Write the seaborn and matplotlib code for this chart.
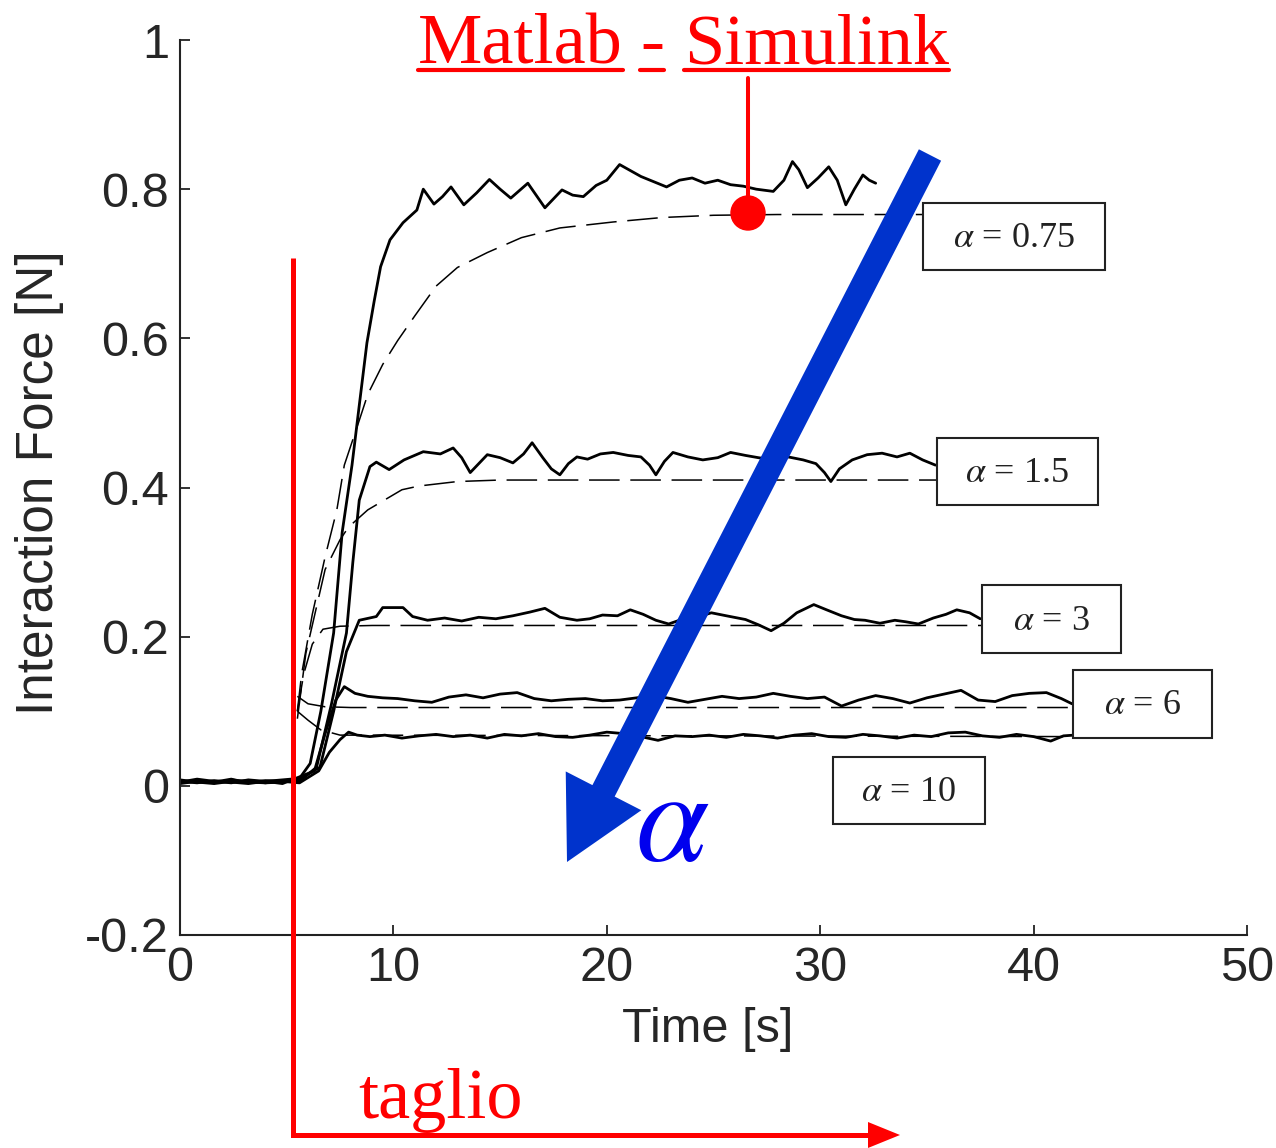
import matplotlib
matplotlib.use("Agg")
import matplotlib.pyplot as plt
import seaborn as sns
from matplotlib.lines import Line2D
from matplotlib.patches import Rectangle, Circle, FancyArrow, Polygon
from matplotlib.transforms import Affine2D

# ---- misure (Time [s], Interaction Force [N]) ----
t_exp_075 = [0.0, 0.8, 1.6, 2.4, 3.2, 4.0, 4.8, 5.6,
             6.1, 6.6, 7.2, 7.6, 8.06, 8.4, 8.76, 9.1, 9.4, 9.84,
             10.45, 11.1, 11.4, 11.9, 12.3, 12.7, 13.3, 13.9, 14.5, 15.0,
             15.5, 16.3, 17.1, 17.9, 18.4, 18.9, 19.5, 20.0, 20.6, 21.1,
             21.6, 22.2, 22.8, 23.4, 24.0, 24.6, 25.2, 25.8, 26.4, 27.0,
             27.8, 28.3, 28.7, 29.0, 29.4, 29.9, 30.4, 30.8, 31.2, 31.6,
             32.0, 32.3, 32.6]
f_exp_075 = [0.006, 0.004, 0.007, 0.005, 0.003, 0.006, 0.008, 0.010,
             0.030, 0.100, 0.205, 0.340, 0.430, 0.510, 0.594, 0.650, 0.696, 0.732,
             0.755, 0.772, 0.800, 0.780, 0.790, 0.803, 0.779, 0.795, 0.813, 0.800,
             0.788, 0.808, 0.775, 0.799, 0.792, 0.790, 0.805, 0.812, 0.833, 0.825,
             0.817, 0.810, 0.803, 0.812, 0.815, 0.808, 0.812, 0.806, 0.804, 0.800,
             0.797, 0.812, 0.837, 0.826, 0.802, 0.815, 0.830, 0.812, 0.779, 0.800,
             0.819, 0.812, 0.808]

t_exp_15 = [0.0, 0.8, 1.6, 2.4, 3.2, 4.0, 4.8, 5.6,
            6.4, 7.1, 7.8, 8.1, 8.4, 8.9, 9.2, 9.8, 10.5, 11.4,
            12.2, 12.8, 13.2, 13.6, 14.0, 14.4, 15.0, 15.6, 16.1, 16.5,
            17.0, 17.4, 17.8, 18.2, 18.6, 19.1, 19.7, 20.3, 21.0, 21.6,
            22.0, 22.3, 22.7, 23.1, 23.8, 24.5, 25.2, 25.8, 26.5, 27.1,
            27.8, 28.5, 29.2, 29.8, 30.2, 30.5, 30.9, 31.5, 32.2, 32.9,
            33.6, 34.2, 34.8, 35.4]
f_exp_15 = [0.003, 0.006, 0.004, 0.008, 0.005, 0.004, 0.007, 0.006,
            0.025, 0.110, 0.205, 0.300, 0.383, 0.428, 0.434, 0.424, 0.437, 0.448,
            0.445, 0.453, 0.440, 0.420, 0.432, 0.444, 0.440, 0.433, 0.445, 0.460,
            0.440, 0.425, 0.417, 0.432, 0.441, 0.438, 0.445, 0.447, 0.443, 0.441,
            0.430, 0.417, 0.435, 0.447, 0.441, 0.437, 0.440, 0.447, 0.443, 0.440,
            0.437, 0.441, 0.437, 0.432, 0.420, 0.408, 0.425, 0.437, 0.444, 0.446,
            0.441, 0.446, 0.437, 0.430]

t_exp_3 = [0.0, 0.8, 1.6, 2.4, 3.2, 4.0, 4.8, 5.6,
           6.56, 7.2, 7.8, 8.4, 9.2, 9.5, 10.45, 10.9, 11.6, 12.4,
           13.2, 14.0, 14.8, 15.6, 16.4, 17.1, 17.8, 18.6, 19.2, 19.8,
           20.5, 21.1, 21.7, 22.3, 22.9, 23.5, 24.2, 24.9, 25.6, 26.5,
           27.1, 27.7, 28.3, 28.9, 29.7, 30.3, 31.0, 31.6, 32.1, 32.8,
           33.5, 34.0, 34.6, 35.3, 35.9, 36.4, 37.0, 37.5]
f_exp_3 = [0.008, 0.005, 0.003, 0.006, 0.007, 0.004, 0.005, 0.009,
           0.025, 0.100, 0.180, 0.222, 0.227, 0.239, 0.239, 0.227, 0.222, 0.225,
           0.221, 0.226, 0.224, 0.228, 0.233, 0.238, 0.226, 0.222, 0.224, 0.229,
           0.228, 0.236, 0.230, 0.222, 0.217, 0.223, 0.226, 0.232, 0.228, 0.223,
           0.216, 0.208, 0.218, 0.232, 0.243, 0.236, 0.228, 0.223, 0.222, 0.218,
           0.222, 0.220, 0.217, 0.225, 0.230, 0.236, 0.232, 0.224]

t_exp_6 = [0.0, 0.8, 1.6, 2.4, 3.2, 4.0, 4.8, 5.6,
           6.3, 6.8, 7.3, 7.7, 8.2, 8.8, 9.5, 10.2, 11.0, 11.8,
           12.6, 13.4, 14.2, 15.0, 15.8, 16.6, 17.4, 18.2, 19.0, 19.8,
           20.6, 21.4, 22.2, 23.0, 23.8, 24.6, 25.4, 26.2, 27.0, 27.8,
           28.6, 29.4, 30.2, 31.0, 31.8, 32.6, 33.4, 34.2, 35.0, 35.8,
           36.6, 37.4, 38.2, 39.0, 39.8, 40.6, 41.3, 41.8]
f_exp_6 = [0.005, 0.009, 0.006, 0.004, 0.008, 0.006, 0.003, 0.012,
           0.020, 0.070, 0.115, 0.133, 0.124, 0.120, 0.118, 0.117, 0.114, 0.112,
           0.119, 0.122, 0.118, 0.123, 0.125, 0.117, 0.114, 0.116, 0.117, 0.114,
           0.115, 0.118, 0.121, 0.117, 0.112, 0.116, 0.120, 0.117, 0.119, 0.124,
           0.120, 0.117, 0.119, 0.107, 0.115, 0.121, 0.117, 0.111, 0.118, 0.123,
           0.128, 0.115, 0.113, 0.121, 0.124, 0.125, 0.117, 0.110]

t_exp_10 = [0.0, 0.8, 1.6, 2.4, 3.2, 4.0, 4.8, 5.6,
            6.5, 7.0, 7.5, 7.9, 8.3, 8.9, 9.6, 10.4, 11.2, 12.0,
            12.8, 13.6, 14.4, 15.2, 16.0, 16.8, 17.6, 18.4, 19.2, 20.0,
            20.8, 21.6, 22.4, 23.2, 24.0, 24.8, 25.6, 26.4, 27.2, 28.0,
            28.8, 29.6, 30.4, 31.2, 32.0, 32.8, 33.6, 34.4, 35.2, 36.0,
            36.8, 37.6, 38.4, 39.2, 40.0, 40.8, 41.4, 41.9]
f_exp_10 = [0.004, 0.007, 0.005, 0.009, 0.004, 0.007, 0.006, 0.004,
            0.020, 0.045, 0.062, 0.072, 0.068, 0.066, 0.068, 0.064, 0.067, 0.069,
            0.066, 0.068, 0.064, 0.069, 0.067, 0.070, 0.066, 0.065, 0.068, 0.072,
            0.070, 0.066, 0.061, 0.067, 0.066, 0.068, 0.065, 0.069, 0.067, 0.064,
            0.068, 0.070, 0.066, 0.065, 0.069, 0.067, 0.064, 0.068, 0.066, 0.071,
            0.072, 0.067, 0.065, 0.069, 0.066, 0.060, 0.067, 0.068]

# ---- simulazioni Matlab - Simulink ----
t_sim_075 = [5.5, 5.7, 6.2, 6.8, 7.35, 7.7, 8.4, 8.8, 9.5, 10.2, 11.0,
             12.0, 13.0, 14.4, 16.0, 17.8, 20.3, 22.6, 25.0, 28.0, 34.8]
f_sim_075 = [0.100, 0.150, 0.230, 0.307, 0.370, 0.430, 0.490, 0.525, 0.565, 0.597, 0.630,
             0.670, 0.695, 0.715, 0.735, 0.748, 0.756, 0.762, 0.765, 0.766, 0.766]
t_sim_15 = [5.5, 5.9, 6.8, 7.5, 7.9, 8.8, 10.4, 11.2, 13.0, 15.0, 35.5]
f_sim_15 = [0.090, 0.178, 0.290, 0.330, 0.347, 0.370, 0.397, 0.402, 0.408, 0.410, 0.410]
t_sim_3 = [5.5, 5.8, 6.2, 6.7, 7.5, 9.0, 37.6]
f_sim_3 = [0.100, 0.150, 0.190, 0.210, 0.214, 0.215, 0.215]
t_sim_6 = [5.5, 6.0, 6.8, 8.0, 41.85]
f_sim_6 = [0.120, 0.110, 0.106, 0.105, 0.105]
t_sim_10 = [5.5, 6.0, 6.6, 7.5, 41.9]
f_sim_10 = [0.100, 0.088, 0.075, 0.068, 0.066]

alpha_labels = ["0.75", "1.5", "3", "6", "10"]
xticks = [0, 10, 20, 30, 40, 50]
yticks = [-0.2, 0, 0.2, 0.4, 0.6, 0.8, 1]
ytick_labels = ["-0.2", "0", "0.2", "0.4", "0.6", "0.8", "1"]

# riquadri delle etichette (pixel, origine in alto a sinistra)
box_px = [(923, 203, 1105, 270), (937, 438, 1098, 505), (982, 585, 1121, 653),
          (1073, 670, 1212, 738), (833, 757, 985, 824)]

sns.set_style("ticks")
plt.rcParams['font.family'] = ['Liberation Sans', 'DejaVu Sans']
plt.rcParams['mathtext.fontset'] = 'stix'

W, H = 1276, 1148
fig = plt.figure(figsize=(W / 100, H / 100), dpi=100)
ax = fig.add_axes([180 / W, 1 - 935 / H, (1247 - 180) / W, (935 - 40) / H])

esperimenti = [(t_exp_075, f_exp_075), (t_exp_15, f_exp_15), (t_exp_3, f_exp_3),
               (t_exp_6, f_exp_6), (t_exp_10, f_exp_10)]
simulazioni = [(t_sim_075, f_sim_075), (t_sim_15, f_sim_15), (t_sim_3, f_sim_3),
               (t_sim_6, f_sim_6), (t_sim_10, f_sim_10)]

for t, f in simulazioni:
    sns.lineplot(x=t, y=f, ax=ax, color='black', lw=1.1, linestyle=(0, (20, 7)),
                 estimator=None, sort=False)
for t, f in esperimenti:
    sns.lineplot(x=t, y=f, ax=ax, color='black', lw=2.0, estimator=None, sort=False)

ax.set_xlim(0, 50)
ax.set_ylim(-0.2, 1)
ax.set_xticks(xticks, labels=[str(v) for v in xticks])
ax.set_yticks(yticks, labels=ytick_labels)
ax.tick_params(direction='in', length=7, width=1.3, labelsize=35, pad=8, color='#222222')
for s in ['top', 'right']:
    ax.spines[s].set_visible(False)
for s in ['left', 'bottom']:
    ax.spines[s].set_linewidth(1.5)
    ax.spines[s].set_color('#222222')

ax.set_xlabel("Time [s]", fontsize=35, va='center')
ax.xaxis.set_label_coords((708 - 180) / 1067, (935 - 1030) / 895)
ax.set_ylabel("Interaction Force [N]", fontsize=37, va='center')
ax.yaxis.set_label_coords((40 - 180) / 1067, (935 - 483) / 895)

# trasformazione in pixel con origine in alto
pix = Affine2D().scale(1, -1).translate(0, H)

for (x0, y0, x1, y1), a in zip(box_px, alpha_labels):
    fig.add_artist(Rectangle((x0, y0), x1 - x0, y1 - y0, transform=pix,
                             facecolor='white', edgecolor='#222222', lw=1.5))
    fig.text((x0 + x1) / 2, (y0 + y1) / 2 + 2, r"$\alpha$ = " + a, transform=pix,
             ha='center', va='center', fontsize=26, color='#222222',
             family='Liberation Serif')

# freccia blu alpha
fig.add_artist(FancyArrow(930, 155, 567 - 930, 862 - 155, width=25, head_width=85,
                          head_length=80, length_includes_head=True, transform=pix,
                          color='#0033cc', lw=0))
fig.text(672, 826, r"$\alpha$", transform=pix, ha='center', va='center',
         fontsize=95, color='#0000ee')

# Matlab - Simulink
rosso = '#ff0000'
pezzi = [("Matlab", 418), ("-", 640), ("Simulink", 684)]
testi = [fig.text(x, 63, s, transform=pix, ha='left', va='baseline', fontsize=52,
                  color=rosso, family='Liberation Serif') for s, x in pezzi]
fig.canvas.draw()
renderer = fig.canvas.get_renderer()
for tx in testi:
    bb = tx.get_window_extent(renderer)
    fig.add_artist(Line2D([bb.x0, bb.x1], [70, 70], transform=pix, color=rosso, lw=3))
fig.add_artist(Line2D([748, 748], [78, 213], transform=pix, color=rosso, lw=2.9))
fig.add_artist(Circle((748, 213), 17, transform=pix, color=rosso))

# taglio
fig.add_artist(Line2D([293, 293, 875], [258, 1135, 1135], transform=pix, color=rosso,
                      lw=3.6, solid_joinstyle='miter', solid_capstyle='butt'))
fig.add_artist(Polygon([(900, 1135), (868, 1122), (868, 1148)], closed=True,
                       transform=pix, color=rosso, lw=0))
fig.text(358, 1118, "taglio", transform=pix, ha='left', va='baseline', fontsize=52,
         color=rosso, family='Liberation Serif')

fig.savefig("out.png", dpi=100)
